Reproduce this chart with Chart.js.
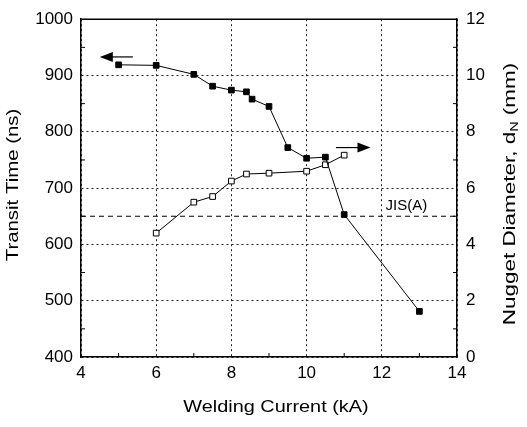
<!DOCTYPE html>
<html>
<head>
<meta charset="utf-8">
<script src="https://cdn.jsdelivr.net/npm/chart.js@4"></script>
<style>
  html, body { margin: 0; padding: 0; background: #fff; }
  #wrap { width: 527px; height: 427px; }
</style>
</head>
<body>
<div id="wrap"><canvas id="chart" width="527" height="427"></canvas></div>
<script>
// Transit time (left axis), filled squares
const currentTransit = [5, 6, 7, 7.5, 8, 8.4, 8.55, 9, 9.5, 10, 10.5, 11, 13];
const transitTime = [919, 918, 902, 881, 874, 871, 858, 845, 772, 753, 755, 653, 481];

// Nugget diameter (right axis), open squares
const currentNugget = [6, 7, 7.5, 8, 8.4, 9, 10, 10.5, 11];
const nuggetDiameter = [4.4, 5.5, 5.7, 6.25, 6.5, 6.53, 6.6, 6.83, 7.17];

// JIS(A) limit, on the diameter axis
const jisRange = [4, 14];
const jisLevel = 5;

const FONT = "'Liberation Sans', Arial, Helvetica, sans-serif";

const toPoints = (xs, ys) => xs.map((x, i) => ({ x: x, y: ys[i] }));

// arrows showing which axis each curve belongs to (data coords)
const arrows = [
  { from: 5.38, to: 4.5, y: 933, axis: "y" },
  { from: 10.78, to: 11.7, y: 7.44, axis: "y2" },
];

const extras = {
  id: "extras",
  afterDraw(chart) {
    const ctx = chart.ctx;
    const a = chart.chartArea;
    const sx = chart.scales.x;

    ctx.save();
    ctx.strokeStyle = "#000";
    ctx.fillStyle = "#000";

    // frame top line
    ctx.lineWidth = 1.5;
    ctx.beginPath();
    ctx.moveTo(a.left, a.top);
    ctx.lineTo(a.right, a.top);
    ctx.stroke();

    // minor inward ticks
    ctx.lineWidth = 1;
    const tick = (x1, y1, x2, y2) => {
      ctx.beginPath();
      ctx.moveTo(x1, y1);
      ctx.lineTo(x2, y2);
      ctx.stroke();
    };
    for (let v = 5; v < 14; v += 2) {
      const px = sx.getPixelForValue(v);
      tick(px, a.bottom, px, a.bottom - 4);
    }
    const sy = chart.scales.y;
    for (let v = 450; v < 1000; v += 100) {
      const py = sy.getPixelForValue(v);
      tick(a.left, py, a.left + 4, py);
    }
    const sy2 = chart.scales.y2;
    for (let v = 1; v < 12; v += 2) {
      const py = sy2.getPixelForValue(v);
      tick(a.right, py, a.right - 4, py);
    }

    // arrows
    arrows.forEach((ar) => {
      const s = chart.scales[ar.axis];
      const x0 = sx.getPixelForValue(ar.from);
      const x1 = sx.getPixelForValue(ar.to);
      const y = s.getPixelForValue(ar.y);
      const dir = Math.sign(x1 - x0);
      ctx.lineWidth = 1.2;
      tick(x0, y, x1 - dir * 8, y);
      ctx.beginPath();
      ctx.moveTo(x1, y);
      ctx.lineTo(x1 - dir * 13, y - 5);
      ctx.lineTo(x1 - dir * 13, y + 5);
      ctx.closePath();
      ctx.fill();
    });

    // JIS(A) label
    ctx.font = "15px " + FONT;
    ctx.textAlign = "left";
    ctx.textBaseline = "middle";
    ctx.fillText("JIS(A)", sx.getPixelForValue(12.1), sy2.getPixelForValue(jisLevel) - 10);

    // axis titles (slightly stretched like the scan)
    const title = (parts, cx, cy, rot, stretch) => {
      ctx.save();
      ctx.translate(cx, cy);
      ctx.rotate(rot);
      ctx.scale(stretch, 1);
      let w = 0;
      parts.forEach((p) => {
        ctx.font = p.size + "px " + FONT;
        w += ctx.measureText(p.t).width;
      });
      let x = -w / 2;
      ctx.textAlign = "left";
      ctx.textBaseline = "middle";
      parts.forEach((p) => {
        ctx.font = p.size + "px " + FONT;
        ctx.fillText(p.t, x, p.dy || 0);
        x += ctx.measureText(p.t).width;
      });
      ctx.restore();
    };
    title([{ t: "Welding Current (kA)", size: 17 }], 276, 407, 0, 1.17);
    title([{ t: "Transit Time (ns)", size: 17 }], 13, 185, -Math.PI / 2, 1.2);
    title([
      { t: "Nugget Diameter, d", size: 17 },
      { t: "N", size: 11, dy: 5 },
      { t: " (mm)", size: 17 },
    ], 510, 194, -Math.PI / 2, 1.32);

    ctx.restore();
  },
};

const tickFont = { family: FONT, size: 17 };

new Chart(document.getElementById("chart"), {
  type: "line",
  data: {
    datasets: [
      {
        label: "Transit Time",
        data: toPoints(currentTransit, transitTime),
        yAxisID: "y",
        borderColor: "#000",
        borderWidth: 1,
        pointStyle: "rect",
        pointRadius: 4,
        pointBackgroundColor: "#000",
        pointBorderColor: "#000",
        pointBorderWidth: 1,
      },
      {
        label: "Nugget Diameter",
        data: toPoints(currentNugget, nuggetDiameter),
        yAxisID: "y2",
        borderColor: "#000",
        borderWidth: 1,
        pointStyle: "rect",
        pointRadius: 4,
        pointBackgroundColor: "#fff",
        pointBorderColor: "#000",
        pointBorderWidth: 1,
      },
      {
        label: "JIS(A)",
        data: jisRange.map((x) => ({ x: x, y: jisLevel })),
        yAxisID: "y2",
        borderColor: "#000",
        borderWidth: 1.2,
        borderDash: [5, 4],
        pointRadius: 0,
      },
    ],
  },
  options: {
    responsive: false,
    animation: false,
    layout: { padding: { top: 15, left: 0, right: 0, bottom: 0 } },
    plugins: { legend: { display: false }, tooltip: { enabled: false } },
    scales: {
      x: {
        type: "linear",
        min: 4,
        max: 14,
        ticks: { stepSize: 2, color: "#000", font: tickFont, padding: 6 },
        grid: { color: "#222", lineWidth: 1, drawTicks: false },
        border: { display: true, color: "#000", width: 1.5, dash: [2, 3] },
        afterFit: (s) => { s.height = 70; },
      },
      y: {
        position: "left",
        min: 400,
        max: 1000,
        ticks: { stepSize: 100, color: "#000", font: tickFont, padding: 8, callback: (v) => String(v) },
        grid: { color: "#222", lineWidth: 1, drawTicks: false },
        border: { display: true, color: "#000", width: 1.5, dash: [2, 3] },
        afterFit: (s) => { s.width = 81; },
      },
      y2: {
        position: "right",
        min: 0,
        max: 12,
        ticks: { stepSize: 2, color: "#000", font: tickFont, padding: 9 },
        grid: { display: false, drawTicks: false },
        border: { display: true, color: "#000", width: 1.5 },
        afterFit: (s) => { s.width = 70; },
      },
    },
  },
  plugins: [extras],
});
</script>
</body>
</html>
